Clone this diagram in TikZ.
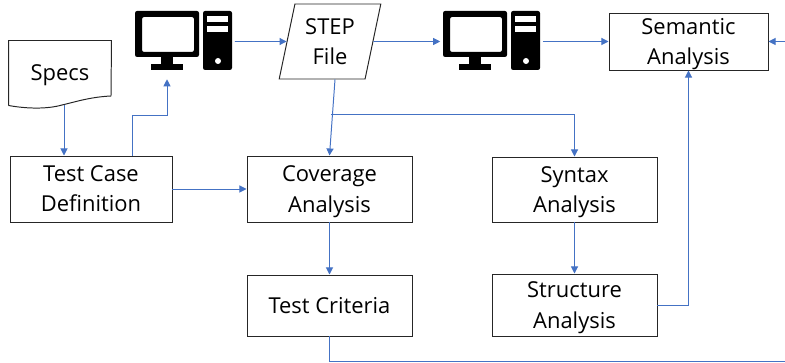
\documentclass[tikz,border=0pt]{standalone}
\usepackage{fontspec}
\setmainfont{Open Sans}
\usetikzlibrary{shapes.geometric}
\usetikzlibrary{arrows.meta}
\definecolor{linkblue}{HTML}{4472C4}
\tikzset{
	box/.style={draw=black!85, line width=0.7pt, inner sep=0pt, align=center, font=\fontsize{15.6}{21.5}\selectfont},
	link/.style={draw=linkblue, line width=0.7pt, -{Triangle[length=5pt,width=5pt]}},
	pc/.pic={
		\fill[even odd rule, rounded corners=1.5pt] (-1.2125,0.7375) rectangle (0.3875,-0.4125) (-1.0375,0.5875) rectangle (0.2625,-0.2875);
		\fill (-0.5625,-0.4125) rectangle (-0.2625,-0.5875);
		\fill (-0.8125,-0.5875) rectangle (-0.0125,-0.7375);
		\fill[even odd rule, rounded corners=1.5pt] (0.4875,0.7375) rectangle (1.2125,-0.7375);
		\fill[white] (0.5875,0.6125) rectangle (1.1125,0.4625);
		\fill[white] (0.5875,0.3625) rectangle (1.1125,0.2125);
		\fill[white] (0.8625,-0.5125) circle (0.075);
	}
}

\begin{document}
\begin{tikzpicture}
	\useasboundingbox (0,0) rectangle (19.625,-9.075);

	\node[box, draw=none, minimum width=2.55cm, minimum height=1.6cm] (specs) at (1.5,-1.825) {\rule{0pt}{14.5pt}Specs};
	\draw[draw=black!85, line width=0.7pt] (specs.south west) -- (specs.north west) -- (specs.north east) -- (2.775,-2.4)
		.. controls (2.25,-2.425) and (1.875,-2.55) .. (1.55,-2.625)
		.. controls (1.2,-2.725) and (0.7,-2.725) .. (specs.south west);

	\node[minimum width=2.55cm, minimum height=1.875cm] (pc1) at (4.5875,-1.0375) {};
	\pic at ([yshift=0.025cm]pc1) {pc};
	\node[minimum width=2.55cm, minimum height=1.875cm] (pc2) at (12.2875,-1.0375) {};
	\pic at ([yshift=0.025cm]pc2) {pc};

	\node[box, trapezium, trapezium left angle=76.5, trapezium right angle=103.5, minimum width=2.55cm, minimum height=1.875cm, trapezium stretches=true] (stepfile) at (8.25,-1.0375) {STEP\\File};

	\node[box, minimum width=3.975cm, minimum height=1.425cm] (semantic) at (17.2125,-1.0375) {\rule{0pt}{15pt}Semantic\\Analysis};
	\node[box, minimum width=4.05cm, minimum height=1.65cm] (testcase) at (2.275,-4.725) {Test Case\\Definition};
	\node[box, minimum width=4.125cm, minimum height=1.65cm] (coverage) at (8.2375,-4.725) {\rule{0pt}{15pt}Coverage\\Analysis};
	\node[box, minimum width=4.125cm, minimum height=1.625cm] (syntax) at (14.3625,-4.7375) {\rule{0pt}{15pt}Syntax\\Analysis};
	\node[box, minimum width=4.125cm, minimum height=1.525cm] (criteria) at (8.2375,-7.6375) {Test Criteria};
	\node[box, minimum width=4.125cm, minimum height=1.55cm] (structure) at (14.3625,-7.625) {\rule{0pt}{15pt}Structure\\Analysis};

	\coordinate (branch) at (8.275,-2.85);
	\coordinate (feedin) at (19.625,-1.0375);
	\coordinate (feedout) at (19.625,-9.025);

	\draw[link] ([xshift=0.1cm]specs.south) -- ([xshift=0.1cm]specs.south |- testcase.north);
	\draw[link] ([xshift=1.025cm]testcase.north) -- ++(0,1) -| ([xshift=-0.4125cm]pc1.south);
	\draw[link] (pc1.east) -- (stepfile.west);
	\draw[link] (stepfile.east) -- (pc2.west);
	\draw[link] (pc2.east) -- (semantic.west);
	\draw[link] (feedin) -- (semantic.east);
	\draw[link] ([xshift=0.125cm]stepfile.south) -- (coverage.north);
	\draw[link] (branch) -| (syntax.north);
	\draw[link] (testcase.east) -- (coverage.west);
	\draw[link] (coverage.south) -- (criteria.north);
	\draw[link] (syntax.south) -- (structure.north);
	\draw[link] (structure.east) -| (semantic.south);
	\draw[link, -] (criteria.south) |- (feedout);
\end{tikzpicture}
\end{document}
